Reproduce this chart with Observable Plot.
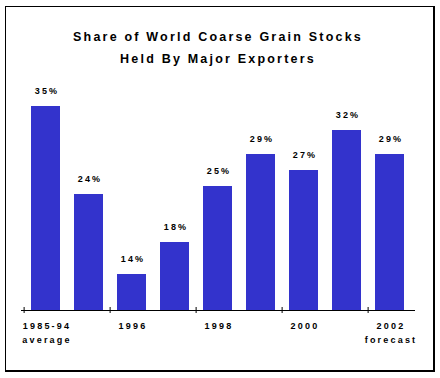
<!DOCTYPE html>
<html><head><meta charset="utf-8">
<script src="https://cdn.jsdelivr.net/npm/d3@7"></script>
<script src="https://cdn.jsdelivr.net/npm/@observablehq/plot@0.6"></script>
<style>
body{margin:0;background:#fff;}
#wrap{position:relative;width:440px;height:378px;overflow:hidden;font-family:"Liberation Sans",Arial,sans-serif;background:#fff;}
#wrap svg{position:absolute;left:0;top:0;}
#wrap svg text{letter-spacing:2.2px;}
#frame{position:absolute;left:5px;top:6px;width:427px;height:363px;border-left:1px solid #000;border-top:1px solid #000;border-right:2px solid #000;border-bottom:2px solid #000;pointer-events:none;}
.title{position:absolute;left:-2px;width:440px;text-align:center;font-weight:bold;font-size:12.5px;line-height:12px;letter-spacing:2.2px;color:#000;white-space:nowrap;}
</style>
</head><body>
<div id="wrap">
  <div class="title" style="top:31px">Share of World Coarse Grain Stocks</div>
  <div class="title" style="top:53px">Held By Major Exporters</div>
  <div id="frame"></div>
</div>
<script>
const categories = ["1985-94 average","1995","1996","1997","1998","1999","2000","2001","2002 forecast"];
const shares = [35,24,14,18,25,29,27,32,29];
const tickLine1 = ["1985-94","","1996","","1998","","2000","","2002"];
const tickLine2 = ["average","","","","","","","","forecast"];
const yBase = 9.5;

const data = categories.map((c,i)=>({cat:c, share:shares[i], l1:tickLine1[i], l2:tickLine2[i]}));
const tickData = data.filter((d,i)=>i%2===0);

const W = 440, H = 378, mL = 21, mR = 25;
const step = (W - mL - mR) / categories.length;

const chart = Plot.plot({
  width: W, height: H,
  marginLeft: mL, marginRight: mR, marginTop: 106, marginBottom: 68,
  style: {fontFamily: "'Liberation Sans', Arial, sans-serif", background: "transparent", overflow: "visible", color: "#000"},
  x: {domain: categories, paddingInner: 0.32, paddingOuter: 0.16, axis: null},
  y: {domain: [yBase, d3.max(shares)], axis: null},
  marks: [
    Plot.barY(data, {x: "cat", y1: yBase, y2: "share", fill: "#3333cc"}),
    Plot.ruleY([yBase], {stroke: "#000", strokeWidth: 1}),
    Plot.ruleX(tickData, {x: "cat", y1: yBase, y2: yBase, insetTop: -3, insetBottom: -3, dx: -step/2, stroke: "#000"}),
    Plot.text(data, {x: "cat", y: "share", text: d => d.share + "%", dy: -13, dx: 1, lineAnchor: "bottom", fontWeight: "bold", fontSize: 9, fill: "#000"}),
    Plot.text(data, {x: "cat", y: yBase, text: "l1", dy: 18.5, dx: 1, lineAnchor: "bottom", fontWeight: "bold", fontSize: 9, fill: "#000"}),
    Plot.text(data, {x: "cat", y: yBase, text: "l2", dy: 32.5, dx: 1, lineAnchor: "bottom", fontWeight: "bold", fontSize: 9, fill: "#000"})
  ]
});
document.getElementById("wrap").insertBefore(chart, document.getElementById("frame"));
</script>
</body></html>
